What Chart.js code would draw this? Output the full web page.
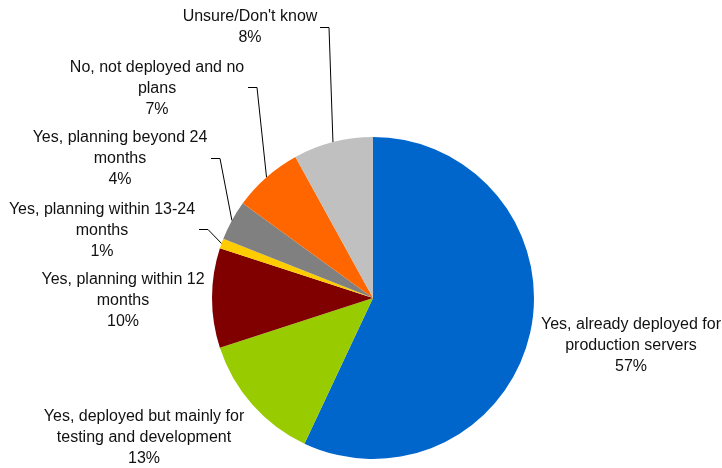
<!DOCTYPE html>
<html>
<head>
<meta charset="utf-8">
<script src="https://cdn.jsdelivr.net/npm/chart.js@4/dist/chart.umd.min.js"></script>
<style>
html,body{margin:0;padding:0;background:#fff;}
#wrap{width:722px;height:468px;position:relative;}
</style>
</head>
<body>
<div id="wrap"><canvas id="c" width="722" height="468"></canvas></div>
<script>
// ---- data ----
const categories = [
  "Yes, already deployed for production servers",
  "Yes, deployed but mainly for testing and development",
  "Yes, planning within 12 months",
  "Yes, planning within 13-24 months",
  "Yes, planning beyond 24 months",
  "No, not deployed and no plans",
  "Unsure/Don't know"
];
const values = [57, 13, 10, 1, 4, 7, 8];
const colors = ["#0066CC", "#99CC00", "#800000", "#FFCC00", "#808080", "#FF6600", "#C0C0C0"];

// ---- label layout (wrapping & placement only) ----
const labelLines = [
  ["Yes, already deployed for", "production servers"],
  ["Yes, deployed but mainly for", "testing and development"],
  ["Yes, planning within 12", "months"],
  ["Yes, planning within 13-24", "months"],
  ["Yes, planning beyond 24", "months"],
  ["No, not deployed and no", "plans"],
  ["Unsure/Don't know"]
];
const labelPos = [
  {x: 631, y: 325},
  {x: 144, y: 417},
  {x: 123, y: 280},
  {x: 102, y: 210},
  {x: 120, y: 138},
  {x: 157, y: 68},
  {x: 250, y: 17}
];
const leaders = [null, null, null,
  {x: 199, y: 229},
  {x: 211, y: 158},
  {x: 248, y: 87},
  {x: 320, y: 27}
];

const LINE_H = 20.7;
const FONT = "16px 'Liberation Sans', Arial, sans-serif";

const labelPlugin = {
  id: 'pieLabels',
  afterDatasetsDraw(chart) {
    const ctx = chart.ctx;
    const meta = chart.getDatasetMeta(0);
    const data = chart.data.datasets[0].data;
    const total = data.reduce((a, b) => a + b, 0);
    ctx.save();
    ctx.font = FONT;
    ctx.fillStyle = "#111";
    ctx.textAlign = "center";
    ctx.textBaseline = "middle";
    meta.data.forEach((arc, i) => {
      const lines = labelLines[i].concat([Math.round(data[i] / total * 100) + "%"]);
      const p = labelPos[i];
      lines.forEach((t, k) => ctx.fillText(t, p.x, p.y + k * LINE_H));
      const L = leaders[i];
      if (L) {
        const mid = (arc.startAngle + arc.endAngle) / 2;
        const ex = arc.x + Math.cos(mid) * arc.outerRadius;
        const ey = arc.y + Math.sin(mid) * arc.outerRadius;
        ctx.beginPath();
        ctx.strokeStyle = "#000";
        ctx.lineWidth = 1;
        ctx.moveTo(L.x, L.y + 0.5);
        ctx.lineTo(L.x + 9, L.y + 0.5);
        ctx.lineTo(ex, ey);
        ctx.stroke();
      }
    });
    ctx.restore();
  }
};

new Chart(document.getElementById('c'), {
  type: 'pie',
  data: {
    labels: categories,
    datasets: [{
      data: values,
      backgroundColor: colors,
      borderColor: colors,
      borderWidth: 0
    }]
  },
  options: {
    responsive: false,
    animation: false,
    layout: { padding: { top: 137, bottom: 9, left: 212, right: 188 } },
    plugins: { legend: { display: false }, tooltip: { enabled: false } }
  },
  plugins: [labelPlugin]
});
</script>
</body>
</html>
